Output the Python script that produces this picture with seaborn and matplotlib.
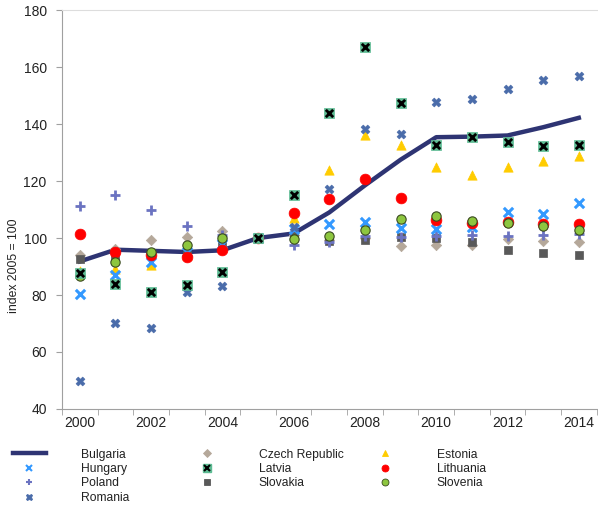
import pandas as pd
import seaborn as sns
import matplotlib.pyplot as plt
from matplotlib.legend_handler import HandlerTuple
from matplotlib.lines import Line2D

years = list(range(2000, 2015))

bulgaria = [91.8, 95.9, 95.5, 95.1, 95.7, 100, 101.6, 109.0, 118.5, 127.5, 135.4, 135.6, 136.0, 138.9, 142.2]
czech = [93.9, 96.0, 99.4, 100.5, 102.4, 100, 101.0, 99.2, 100.0, 97.3, 97.4, 97.7, 99.5, 99.0, 98.5]
estonia = [88.5, 89.3, 90.6, 94.0, 97.0, 100, 106.9, 124.0, 136.3, 132.6, 125.1, 122.1, 125.0, 127.0, 128.9]
hungary = [80.4, 87.0, 91.5, 95.0, 98.0, 100, 103.2, 105.0, 105.5, 103.6, 103.0, 103.9, 109.0, 108.5, 112.4]
latvia = [87.7, 84.0, 81.0, 83.4, 88.0, 100, 115.2, 143.8, 167.1, 147.4, 132.8, 135.4, 133.8, 132.2, 132.8]
lithuania = [101.3, 95.1, 94.2, 93.5, 95.7, 100, 108.9, 113.7, 120.8, 114.0, 106.2, 105.4, 105.6, 104.8, 105.0]
poland = [111.1, 115.2, 110.0, 104.3, 101.2, 100, 97.6, 98.6, 100.6, 100.4, 100.6, 101.0, 100.7, 100.9, 101.5]
slovakia = [92.5, 93.4, 94.5, 95.7, 98.4, 100, 100.6, 98.8, 99.2, 100.4, 100.0, 98.6, 95.9, 94.9, 93.9]
slovenia = [86.7, 91.7, 95.2, 97.4, 100.0, 100, 99.8, 100.6, 102.7, 106.8, 107.6, 106.0, 105.3, 104.1, 102.9]
romania = [49.8, 70.2, 68.5, 81.1, 83.1, 100, 103.8, 117.3, 138.3, 136.6, 147.6, 148.8, 152.2, 155.5, 157.0]

even_years = [2000, 2002, 2004, 2006, 2008, 2010, 2012, 2014]

plt.rcParams['font.family'] = ['Liberation Sans', 'DejaVu Sans']

fig = plt.figure(figsize=(5.98, 5.08), dpi=100)
ax = fig.add_axes([0.1037, 0.195, 0.894, 0.785])

df_bg = pd.DataFrame({'year': years, 'value': bulgaria})
sns.lineplot(data=df_bg, x='year', y='value', ax=ax, color='#2E3473', lw=3.2, zorder=3)

# (name, data, marker, face, edge, size, lw)
series = [
    ('Czech Republic', czech, 'D', '#B5A89A', '#B5A89A', 28, 0.5),
    ('Estonia', estonia, '^', '#FFCC00', '#FFCC00', 45, 0.5),
    ('Slovakia', slovakia, 's', '#595959', '#595959', 40, 0.5),
    ('Poland', poland, '+', '#6B73C1', '#6B73C1', 50, 2.0),
    ('Hungary', hungary, 'x', '#3399FF', '#3399FF', 45, 2.2),
    ('Romania', romania, 'X', '#4A6CAA', '#4A6CAA', 40, 0.5),
    ('Lithuania', lithuania, 'o', '#FF0000', '#FF0000', 60, 0.5),
    ('Slovenia', slovenia, 'o', '#8DC63F', '#3A4A20', 45, 0.8),
]
handles = {}
for name, vals, mk, fc, ec, s, lw in series:
    d = pd.DataFrame({'year': years, 'value': vals})
    if mk in ('+', 'x'):
        sns.scatterplot(data=d, x='year', y='value', ax=ax, marker=mk, color=fc,
                        s=s, linewidth=lw, zorder=4)
    else:
        sns.scatterplot(data=d, x='year', y='value', ax=ax, marker=mk, color=fc,
                        edgecolor=ec, s=s, linewidth=lw, zorder=4)
    ms = 4 if mk == 'D' else 5
    handles[name] = Line2D([], [], ls='none', marker=mk, color=fc, markeredgecolor=ec,
                           markersize=ms, markeredgewidth=1.5 if mk in ('+', 'x') else 0.6)

# Latvia: green square with black cross
d_lv = pd.DataFrame({'year': years, 'value': latvia})
sns.scatterplot(data=d_lv, x='year', y='value', ax=ax, marker='s', color='#5DBB93',
                edgecolor='#5DBB93', s=55, linewidth=0.5, zorder=5)
sns.scatterplot(data=d_lv, x='year', y='value', ax=ax, marker='x', color='black',
                s=28, linewidth=2.0, zorder=6)
handles['Latvia'] = (Line2D([], [], ls='none', marker='s', color='#5DBB93', markersize=6),
                     Line2D([], [], ls='none', marker='x', color='black', markersize=4,
                            markeredgewidth=1.5))
handles['Bulgaria'] = Line2D([], [], color='#2E3473', lw=3.2)

ax.set_xlim(1999.5, 2014.5)
ax.set_ylim(40, 180)
ax.set_yticks(range(40, 181, 20))
ax.set_xticks(even_years)
ax.set_xticks([y + 0.5 for y in range(1999, 2015)], minor=True)
ax.tick_params(axis='x', which='major', length=0, pad=5, labelsize=10, colors='#222222')
ax.tick_params(axis='x', which='minor', length=4, color='#A0A0A0')
ax.tick_params(axis='y', length=4, pad=7, color='#A0A0A0', labelsize=10, colors='#222222')
ax.set_xlabel('')
ax.set_ylabel('index 2005 = 100', fontsize=8.8, color='#222222')
ax.yaxis.set_label_coords(-0.078, 0.36)

for side in ['left', 'bottom']:
    ax.spines[side].set_color('#A0A0A0')
ax.spines['top'].set_color('#DDDDDD')
ax.spines['right'].set_visible(False)

# legend: three fixed-width columns like the original
columns = [['Bulgaria', 'Hungary', 'Poland', 'Romania'],
           ['Czech Republic', 'Latvia', 'Slovakia'],
           ['Estonia', 'Lithuania', 'Slovenia']]
col_x = [13, 191, 369]
for names, x0 in zip(columns, col_x):
    leg = fig.legend([handles[n] for n in names], names,
                     loc='upper left', bbox_to_anchor=(x0 / 598, 0.117),
                     frameon=False, fontsize=8.7, handlelength=2.7,
                     handletextpad=2.9, labelspacing=0.2,
                     borderpad=0, borderaxespad=0,
                     handler_map={tuple: HandlerTuple(ndivide=1, pad=0)})
    for t in leg.get_texts():
        t.set_color('#222222')

fig.savefig('out.png', dpi=100)
